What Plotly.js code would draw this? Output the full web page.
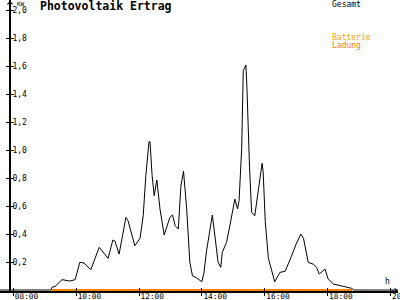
<!DOCTYPE html>
<html>
<head>
<meta charset="utf-8">
<script src="https://cdn.plot.ly/plotly-3.0.1.min.js"></script>
<style>html,body{margin:0;padding:0;background:#fff;}#chart{width:400px;height:300px;}</style>
</head>
<body>
<div id="chart"></div>
<script>
// ---- data ----
const gesamtTime = ["07:34","09:12","09:14","09:20","09:33","09:39","09:48","09:58","10:07","10:15","10:28","10:44","11:01","11:10","11:14","11:22","11:35","11:39","11:52","12:02","12:08","12:13","12:19","12:21","12:25","12:29","12:34","12:40","12:48","12:59","13:04","13:09","13:15","13:20","13:25","13:31","13:37","13:42","13:50","14:00","14:04","14:09","14:20","14:31","14:36","14:39","14:47","14:54","15:03","15:08","15:11","15:16","15:19","15:24","15:26","15:31","15:35","15:41","15:48","15:55","15:57","16:01","16:07","16:19","16:29","16:39","16:51","17:00","17:09","17:14","17:23","17:33","17:39","17:44","17:55","18:01","18:11","18:24","18:36","18:46","18:50","20:15"];
const gesamtKW = [0,0,0.02,0.026,0.074,0.071,0.064,0.074,0.198,0.193,0.145,0.305,0.226,0.357,0.35,0.257,0.519,0.495,0.316,0.37,0.531,0.817,1.059,1.059,0.817,0.674,0.786,0.579,0.393,0.519,0.536,0.459,0.436,0.745,0.848,0.579,0.198,0.102,0.086,0.059,0.126,0.281,0.536,0.198,0.162,0.269,0.34,0.471,0.65,0.579,0.638,1.012,1.566,1.607,1.448,0.876,0.555,0.531,0.709,0.905,0.845,0.488,0.226,0.059,0.126,0.134,0.241,0.329,0.4,0.369,0.198,0.184,0.162,0.114,0.15,0.079,0.043,0.031,0.024,0.012,0,0];
const ladungTime = ["09:12","18:47"];
const ladungKW = [0,0];
const yTickVals = [0.2,0.4,0.6,0.8,1.0,1.2,1.4,1.6,1.8,2.0];
const yTickText = ["0,2","0,4","0,6","0,8","1,0","1,2","1,4","1,6","1,8","2,0"];
const xTickVals = [8,10,12,14,16,18,20];
const xTickText = ["08:00","10:00","12:00","14:00","16:00","18:00","20:00"];

const toH = s => { const p = s.split(":"); return (+p[0]) + (+p[1])/60; };

const FONT = "DejaVu Sans Mono";
const W = 398; // plot width px
const yPos = 10 / W;
const X_RANGE = [7.577, 20.24];
const Y_RANGE = [-0.007, 2.0716];

const traces = [
  {x: [X_RANGE[0]], y: [0], xaxis: "x2", yaxis: "y2", mode: "markers", marker: {opacity: 0}, hoverinfo: "skip", showlegend: false},
  {x: gesamtTime.map(toH), y: gesamtKW, type: "scatter", mode: "lines",
   line: {color: "#000000", width: 1}, hoverinfo: "skip", showlegend: false},
  {x: ladungTime.map(toH), y: ladungKW, type: "scatter", mode: "lines",
   line: {color: "#ff8000", width: 2}, hoverinfo: "skip", showlegend: false}
];

const axisCommon = {showgrid: false, zeroline: false, fixedrange: true};

const layout = {
  width: 400, height: 300,
  margin: {l: 0, r: 2, t: 0, b: 9, pad: 0},
  paper_bgcolor: "#fff", plot_bgcolor: "#fff",
  font: {family: FONT, size: 8, color: "#000"},
  title: {text: "<b>Photovoltaik Ertrag</b>", font: {family: FONT, size: 11.5, color: "#000"},
          x: 40/400, xref: "container", xanchor: "left", y: 1, yref: "container", yanchor: "top", pad: {t: 2}},
  showlegend: false,
  xaxis: Object.assign({}, axisCommon, {
    range: X_RANGE, showline: true, linecolor: "#000", linewidth: 2, layer: "below traces",
    tickvals: xTickVals, ticktext: xTickText, ticks: "outside", ticklen: 3, tickwidth: 1, tickcolor: "#000",
    ticklabelposition: "outside right", ticklabeloverflow: "allow", ticklabelstandoff: -3,
    tickfont: {family: FONT, size: 7.8, color: "#000"}, anchor: "y"
  }),
  xaxis2: Object.assign({}, axisCommon, {
    range: X_RANGE, overlaying: "x", anchor: "y", side: "bottom",
    tickvals: xTickVals, showticklabels: false, ticks: "inside", ticklen: 3, tickwidth: 1, tickcolor: "#000", showline: false
  }),
  yaxis: Object.assign({}, axisCommon, {
    range: Y_RANGE, anchor: "free", position: yPos, showline: true, linecolor: "#000", linewidth: 2, layer: "below traces",
    tickvals: yTickVals, ticktext: yTickText, ticks: "outside", ticklen: 3, tickwidth: 1, tickcolor: "#000",
    ticklabelposition: "inside", ticklabeloverflow: "allow", tickfont: {family: FONT, size: 8, color: "#000"}
  }),
  yaxis2: Object.assign({}, axisCommon, {
    range: Y_RANGE, overlaying: "y", anchor: "free", position: yPos,
    tickvals: yTickVals, showticklabels: false, ticks: "inside", ticklen: 3, tickwidth: 1, tickcolor: "#000", showline: false
  }),
  annotations: [
    {text: "KW", xref: "paper", yref: "paper", x: 16/W, y: 1, xanchor: "left", yanchor: "top", showarrow: false,
     font: {family: FONT, size: 6, color: "#000"}, yshift: 1, borderpad: 0},
    {text: "h", xref: "paper", yref: "paper", x: 387/W, y: 0, xanchor: "center", yanchor: "bottom", showarrow: false,
     font: {family: FONT, size: 8, color: "#000"}, yshift: 3},
    {text: "Gesamt", xref: "paper", yref: "paper", x: 330/W, y: 1, xanchor: "left", yanchor: "top", showarrow: false,
     font: {family: FONT, size: 8, color: "#000"}, yshift: 2},
    {text: "Batterie", xref: "paper", yref: "paper", x: 330/W, y: 1 - 31/291, xanchor: "left", yanchor: "top", showarrow: false,
     font: {family: FONT, size: 8, color: "#ffa500"}},
    {text: "Ladung", xref: "paper", yref: "paper", x: 330/W, y: 1 - 39/291, xanchor: "left", yanchor: "top", showarrow: false,
     font: {family: FONT, size: 8, color: "#ff8000"}},
    {text: "", xref: "paper", yref: "paper", x: yPos, y: 1, ax: 0, ay: 8, showarrow: true,
     arrowhead: 4, arrowsize: 1, arrowwidth: 1, arrowcolor: "#000"},
    {text: "", xref: "paper", yref: "paper", x: 1, y: 0, ax: -8, ay: 0, showarrow: true,
     arrowhead: 4, arrowsize: 1, arrowwidth: 1, arrowcolor: "#000"}
  ]
};

Plotly.newPlot("chart", traces, layout, {staticPlot: true, displayModeBar: false});
</script>
</body>
</html>
